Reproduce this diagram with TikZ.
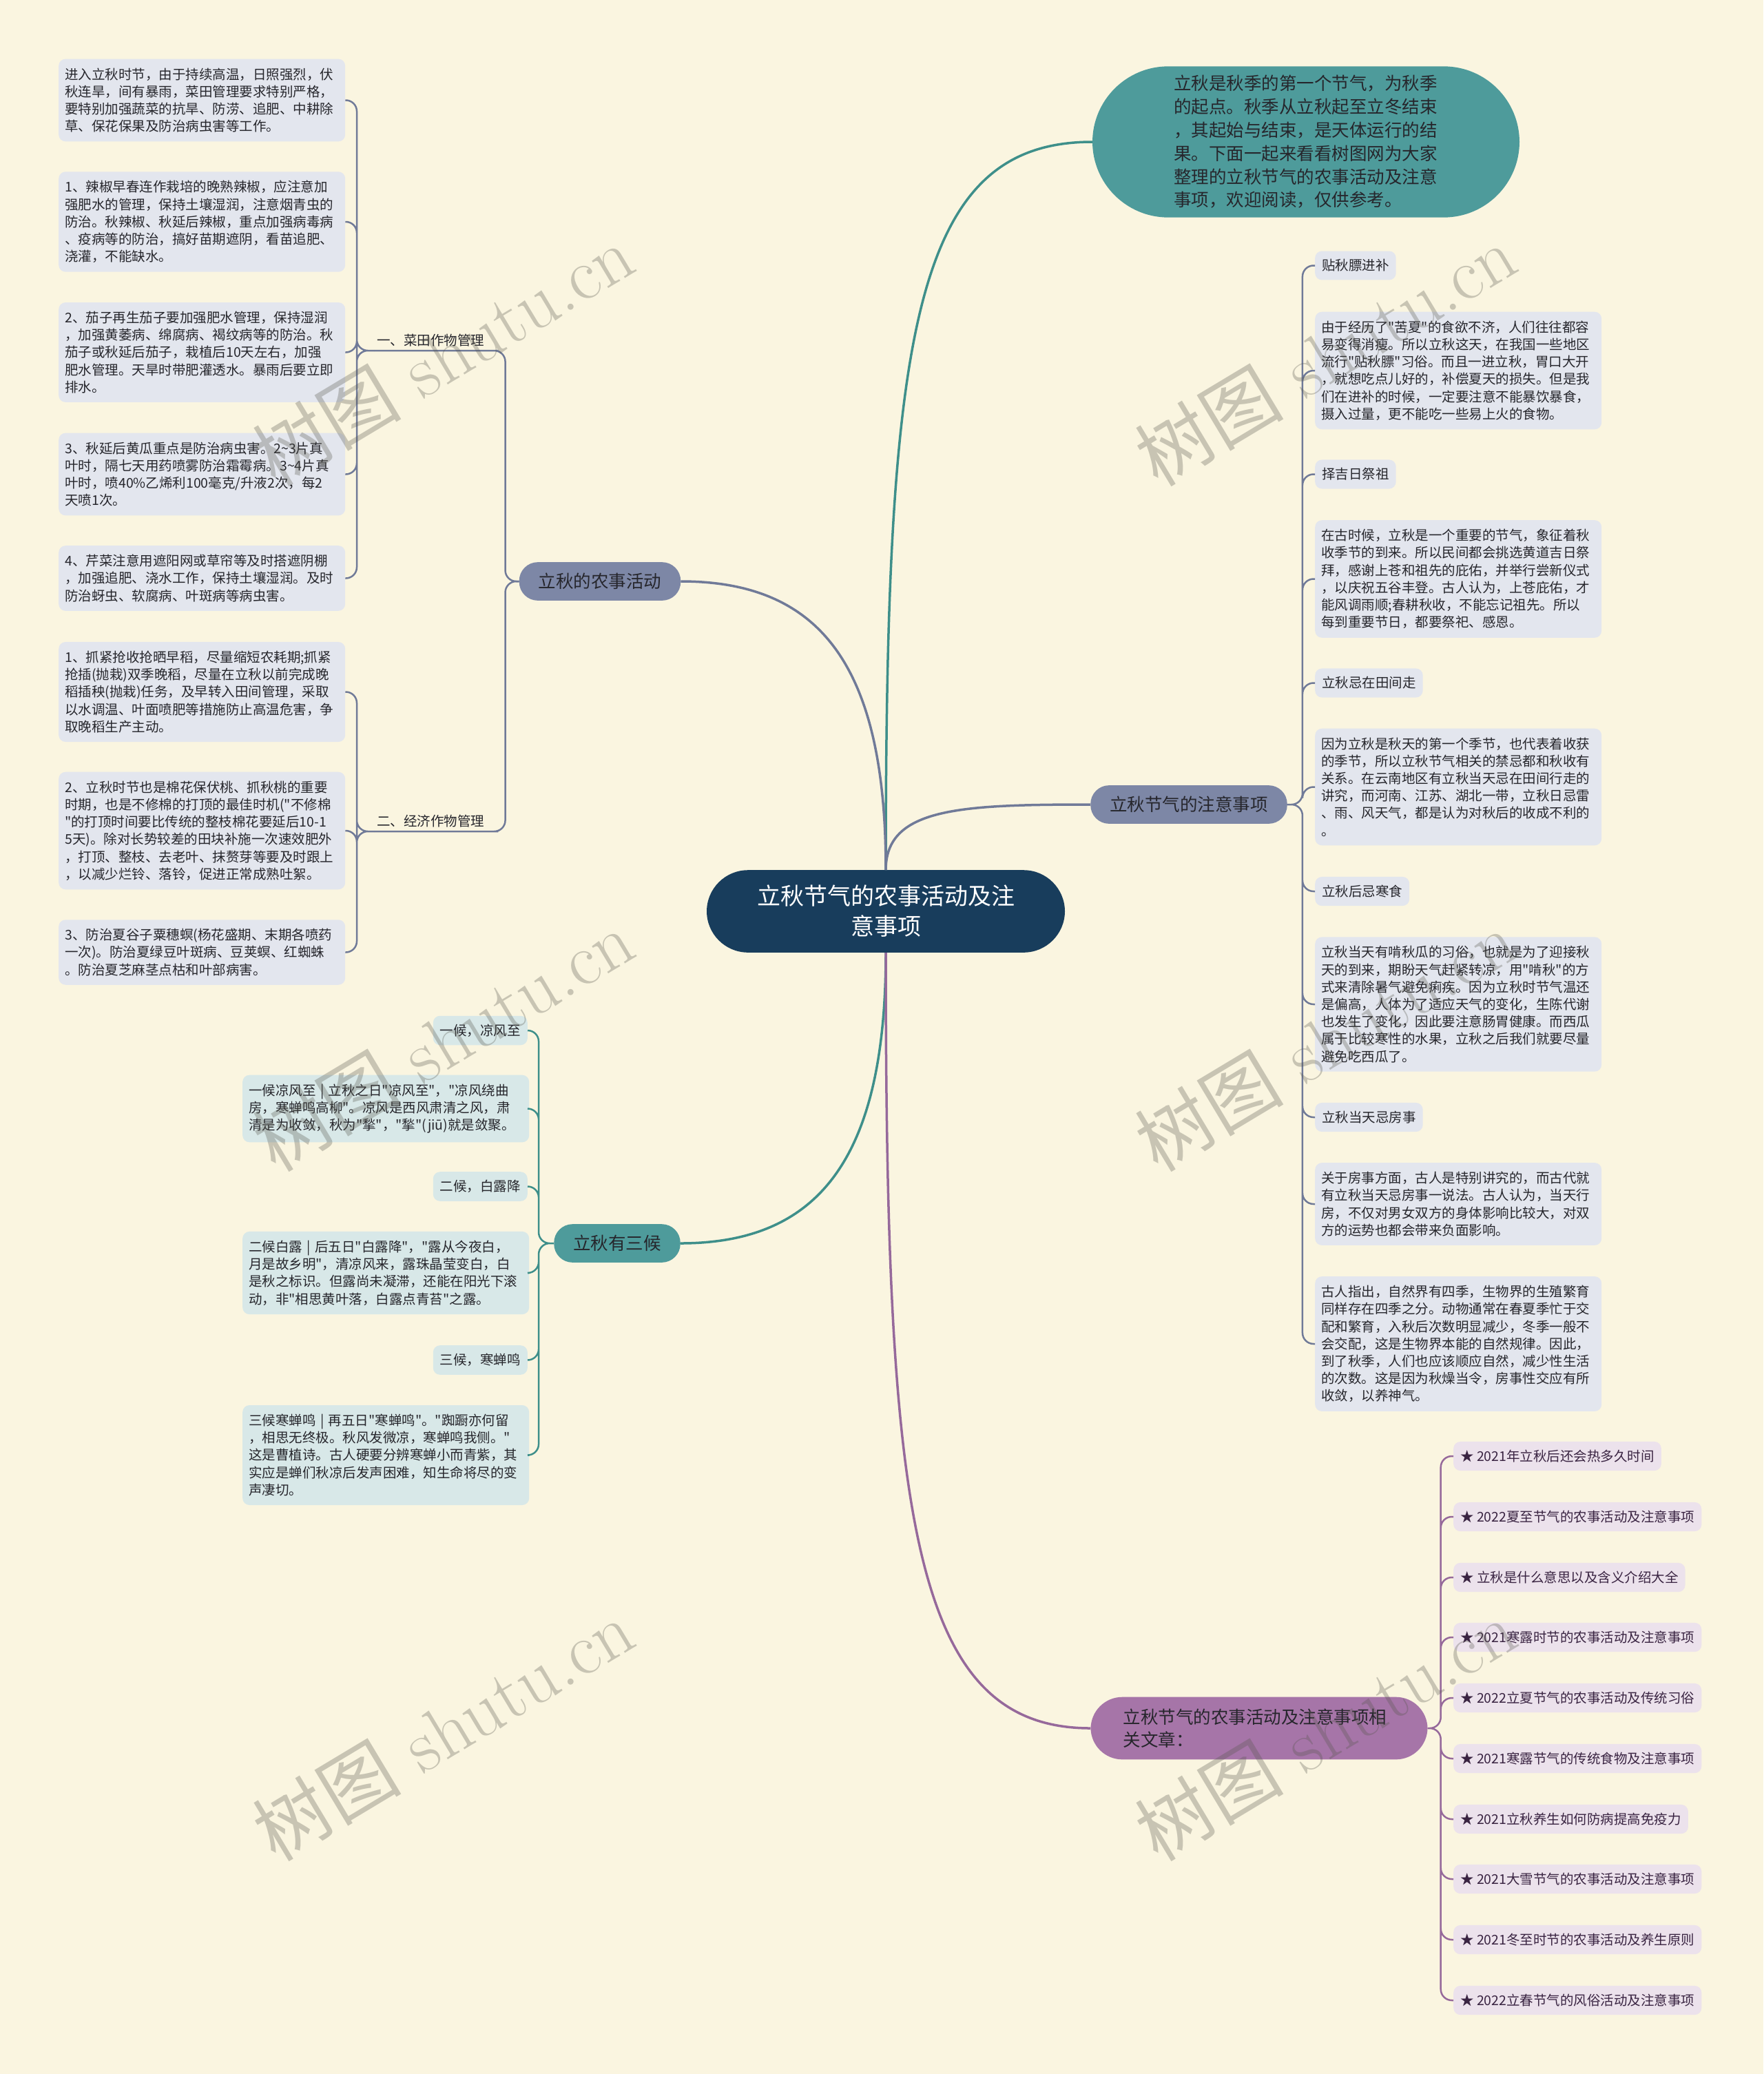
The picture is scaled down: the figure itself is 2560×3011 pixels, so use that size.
\documentclass[tikz,border=0pt]{standalone}
\usepackage{fontspec}
\newfontfamily\cjk{Noto Sans CJK SC}
\usetikzlibrary{positioning}

\definecolor{bgc}{RGB}{250,245,224}
\definecolor{navy}{RGB}{24,61,92}
\definecolor{tealmain}{RGB}{78,155,155}
\definecolor{slate}{RGB}{125,135,166}
\definecolor{plum}{RGB}{166,117,168}
\definecolor{leafgray}{RGB}{227,230,238}
\definecolor{leafteal}{RGB}{216,232,232}
\definecolor{leafplum}{RGB}{236,226,236}
\definecolor{ink}{RGB}{38,38,44}
\definecolor{inkplum}{RGB}{58,36,66}
\definecolor{lineslate}{RGB}{112,122,152}
\definecolor{lineteal}{RGB}{62,143,138}
\definecolor{lineplum}{RGB}{150,105,155}
\definecolor{wmgray}{RGB}{85,85,75}

\begin{document}
\begin{tikzpicture}[x=1pt, y=-1pt,
  topic/.style={rounded corners=27pt, inner xsep=28pt, inner ysep=16pt, fill=slate, text=ink, font=\cjk\fontsize{25.5}{33.8}\selectfont},
  leaf/.style={anchor=west, fill=leafgray, rounded corners=10pt, inner xsep=9pt, inner ysep=13pt, text width=398pt, align=left, text=ink, font=\cjk\fontsize{19.5}{25.2}\selectfont},
  tag/.style={fill=leafgray, rounded corners=10pt, inner xsep=10pt, inner ysep=12pt, text=ink, font=\cjk\fontsize{19.5}{25.2}\selectfont},
  sub/.style={anchor=south west, inner xsep=4pt, inner ysep=6pt, text=ink, font=\cjk\fontsize{19.5}{25.2}\selectfont},
  link/.style={line width=2.5pt, rounded corners=16pt},
  trunk/.style={line width=3.5pt},
  wm/.style={rotate=31, text=wmgray, opacity=0.3, font=\fontsize{108}{108}\selectfont}]
\fill[bgc] (0,0) rectangle (2560,3011);
\useasboundingbox (0,0) rectangle (2560,3011);

\node[topic, fill=navy, text=white, rounded corners=60pt, inner xsep=73pt, inner ysep=22pt, align=center, font=\cjk\fontsize{34}{44}\selectfont] (0) at (1286,1323) {立秋节气的农事活动及注\\意事项};

\node[topic, fill=tealmain, text=ink, rounded corners=110pt, inner xsep=118pt, inner ysep=13pt, text width=384pt, align=left] (2) at (1896,206) {立秋是秋季的第一个节气，为秋季\\的起点。秋季从立秋起至立冬结束\\，其起始与结束，是天体运行的结\\果。下面一起来看看树图网为大家\\整理的立秋节气的农事活动及注意\\事项，欢迎阅读，仅供参考。};

\node[topic] (1) at (871,844) {立秋的农事活动};
\node[topic] (3) at (1726,1168) {立秋节气的注意事项};
\node[topic, fill=tealmain] (4) at (896,1805) {立秋有三候};
\node[topic, fill=plum, rounded corners=46pt, inner xsep=47pt, inner ysep=17pt, text width=395pt, align=left, font=\cjk\fontsize{25.5}{33}\selectfont] (5) at (1828,2509) {立秋节气的农事活动及注意事项相\\关文章：};

\node[sub] (11) at (543,509) {一、菜田作物管理};
\node[sub] (12) at (543,1207) {二、经济作物管理};

\node[leaf] (111) at (85,145.5) {进入立秋时节，由于持续高温，日照强烈，伏\\秋连旱，间有暴雨，菜田管理要求特别严格，\\要特别加强蔬菜的抗旱、防涝、追肥、中耕除\\草、保花保果及防治病虫害等工作。};
\node[leaf] (112) at (85,322) {1、辣椒早春连作栽培的晚熟辣椒，应注意加\\强肥水的管理，保持土壤湿润，注意烟青虫的\\防治。秋辣椒、秋延后辣椒，重点加强病毒病\\、疫病等的防治，搞好苗期遮阴，看苗追肥、\\浇灌，不能缺水。};
\node[leaf] (113) at (85,511.5) {2、茄子再生茄子要加强肥水管理，保持湿润\\，加强黄萎病、绵腐病、褐纹病等的防治。秋\\茄子或秋延后茄子，栽植后10天左右，加强\\肥水管理。天旱时带肥灌透水。暴雨后要立即\\排水。};
\node[leaf] (114) at (85,688.5) {3、秋延后黄瓜重点是防治病虫害。2\textasciitilde 3片真\\叶时，隔七天用药喷雾防治霜霉病。3\textasciitilde 4片真\\叶时，喷40\%乙烯利100毫克/升液2次，每2\\天喷1次。};
\node[leaf] (115) at (85,839.5) {4、芹菜注意用遮阳网或草帘等及时搭遮阴棚\\，加强追肥、浇水工作，保持土壤湿润。及时\\防治蚜虫、软腐病、叶斑病等病虫害。};
\node[leaf] (121) at (85,1004.5) {1、抓紧抢收抢晒早稻，尽量缩短农耗期;抓紧\\抢插(抛栽)双季晚稻，尽量在立秋以前完成晚\\稻插秧(抛栽)任务，及早转入田间管理，采取\\以水调温、叶面喷肥等措施防止高温危害，争\\取晚稻生产主动。};
\node[leaf] (122) at (85,1206) {2、立秋时节也是棉花保伏桃、抓秋桃的重要\\时期，也是不修棉的打顶的最佳时机("不修棉\\"的打顶时间要比传统的整枝棉花要延后10-1\\5天)。除对长势较差的田块补施一次速效肥外\\，打顶、整枝、去老叶、抹赘芽等要及时跟上\\，以减少烂铃、落铃，促进正常成熟吐絮。};
\node[leaf] (123) at (85,1382.5) {3、防治夏谷子粟穗螟(杨花盛期、末期各喷药\\一次)。防治夏绿豆叶斑病、豆荚螟、红蜘蛛\\。防治夏芝麻茎点枯和叶部病害。};

\node[tag, fill=leafteal, anchor=east] (401) at (766,1496) {一候，凉风至};
\node[leaf, fill=leafteal] (402) at (352,1609.5) {一候凉风至 | 立秋之日"凉风至"，"凉风绕曲\\房，寒蝉鸣高柳"。凉风是西风肃清之风，肃\\清是为收敛，秋为"揫"，"揫"(jiū)就是敛聚。};
\node[tag, fill=leafteal, anchor=east] (403) at (766,1722.5) {二候，白露降};
\node[leaf, fill=leafteal] (404) at (352,1848) {二候白露 | 后五日"白露降"，"露从今夜白，\\月是故乡明"，清凉风来，露珠晶莹变白，白\\是秋之标识。但露尚未凝滞，还能在阳光下滚\\动，非"相思黄叶落，白露点青苔"之露。};
\node[tag, fill=leafteal, anchor=east] (405) at (766,1974.5) {三候，寒蝉鸣};
\node[leaf, fill=leafteal] (406) at (352,2112.5) {三候寒蝉鸣 | 再五日"寒蝉鸣"。"踟蹰亦何留\\，相思无终极。秋风发微凉，寒蝉鸣我侧。"\\这是曹植诗。古人硬要分辨寒蝉小而青紫，其\\实应是蝉们秋凉后发声困难，知生命将尽的变\\声凄切。};

\node[tag, anchor=west] (301) at (1909,385.5) {贴秋膘进补};
\node[leaf] (302) at (1909,538) {由于经历了"苦夏"的食欲不济，人们往往都容\\易变得消瘦。所以立秋这天，在我国一些地区\\流行"贴秋膘"习俗。而且一进立秋，胃口大开\\，就想吃点儿好的，补偿夏天的损失。但是我\\们在进补的时候，一定要注意不能暴饮暴食，\\摄入过量，更不能吃一些易上火的食物。};
\node[tag, anchor=west] (303) at (1909,688.5) {择吉日祭祖};
\node[leaf] (304) at (1909,840.5) {在古时候，立秋是一个重要的节气，象征着秋\\收季节的到来。所以民间都会挑选黄道吉日祭\\拜，感谢上苍和祖先的庇佑，并举行尝新仪式\\，以庆祝五谷丰登。古人认为，上苍庇佑，才\\能风调雨顺;春耕秋收，不能忘记祖先。所以\\每到重要节日，都要祭祀、感恩。};
\node[tag, anchor=west] (305) at (1909,991.5) {立秋忌在田间走};
\node[leaf] (306) at (1909,1142.5) {因为立秋是秋天的第一个季节，也代表着收获\\的季节，所以立秋节气相关的禁忌都和秋收有\\关系。在云南地区有立秋当天忌在田间行走的\\讲究，而河南、江苏、湖北一带，立秋日忌雷\\、雨、风天气，都是认为对秋后的收成不利的\\。};
\node[tag, anchor=west] (307) at (1909,1294) {立秋后忌寒食};
\node[leaf] (308) at (1909,1458) {立秋当天有啃秋瓜的习俗，也就是为了迎接秋\\天的到来，期盼天气赶紧转凉，用"啃秋"的方\\式来清除暑气避免痢疾。因为立秋时节气温还\\是偏高，人体为了适应天气的变化，生陈代谢\\也发生了变化，因此要注意肠胃健康。而西瓜\\属于比较寒性的水果，立秋之后我们就要尽量\\避免吃西瓜了。};
\node[tag, anchor=west] (309) at (1909,1622) {立秋当天忌房事};
\node[leaf] (310) at (1909,1748) {关于房事方面，古人是特别讲究的，而古代就\\有立秋当天忌房事一说法。古人认为，当天行\\房，不仅对男女双方的身体影响比较大，对双\\方的运势也都会带来负面影响。};
\node[leaf] (311) at (1909,1951) {古人指出，自然界有四季，生物界的生殖繁育\\同样存在四季之分。动物通常在春夏季忙于交\\配和繁育，入秋后次数明显减少，冬季一般不\\会交配，这是生物界本能的自然规律。因此，\\到了秋季，人们也应该顺应自然，减少性生活\\的次数。这是因为秋燥当令，房事性交应有所\\收敛，以养神气。};

\node[tag, fill=leafplum, text=inkplum, anchor=west] (501) at (2110,2114) {★ 2021年立秋后还会热多久时间};
\node[tag, fill=leafplum, text=inkplum, anchor=west] (502) at (2110,2202) {★ 2022夏至节气的农事活动及注意事项};
\node[tag, fill=leafplum, text=inkplum, anchor=west] (503) at (2110,2290) {★ 立秋是什么意思以及含义介绍大全};
\node[tag, fill=leafplum, text=inkplum, anchor=west] (504) at (2110,2377) {★ 2021寒露时节的农事活动及注意事项};
\node[tag, fill=leafplum, text=inkplum, anchor=west] (505) at (2110,2465) {★ 2022立夏节气的农事活动及传统习俗};
\node[tag, fill=leafplum, text=inkplum, anchor=west] (506) at (2110,2553) {★ 2021寒露节气的传统食物及注意事项};
\node[tag, fill=leafplum, text=inkplum, anchor=west] (507) at (2110,2641) {★ 2021立秋养生如何防病提高免疫力};
\node[tag, fill=leafplum, text=inkplum, anchor=west] (508) at (2110,2728) {★ 2021大雪节气的农事活动及注意事项};
\node[tag, fill=leafplum, text=inkplum, anchor=west] (509) at (2110,2816) {★ 2021冬至时节的农事活动及养生原则};
\node[tag, fill=leafplum, text=inkplum, anchor=west] (510) at (2110,2904) {★ 2022立春节气的风俗活动及注意事项};

\draw[trunk, lineteal] (0.north) .. controls +(0,-780) and +(-260,0) .. (2.west);
\draw[trunk, lineslate] (0.north) .. controls +(0,-300) and +(200,0) .. (1.east);
\draw[trunk, lineslate] (0.north) .. controls +(0,-90) and +(-190,0) .. (3.west);
\draw[trunk, lineteal] (0.south) .. controls +(0,300) and +(200,0) .. (4.east);
\draw[trunk, lineplum] (0.south) .. controls +(0,820) and +(-260,0) .. (5.west);

\draw[link, lineslate] (1.west) -- ++(-20,0) |- (11.south east) -- (11.south west);
\draw[link, lineslate] (1.west) -- ++(-20,0) |- (12.south east) -- (12.south west);
\draw[link, lineslate] (11.south west) -- ++(-25,0) |- (111.east)
  (11.south west) -- ++(-25,0) |- (112.east)
  (11.south west) -- ++(-25,0) |- (113.east)
  (11.south west) -- ++(-25,0) |- (114.east)
  (11.south west) -- ++(-25,0) |- (115.east);
\draw[link, lineslate] (12.south west) -- ++(-25,0) |- (121.east)
  (12.south west) -- ++(-25,0) |- (122.east)
  (12.south west) -- ++(-25,0) |- (123.east);

\draw[link, lineteal] (4.west) -- ++(-22,0) |- (401.east)
  (4.west) -- ++(-22,0) |- (402.east)
  (4.west) -- ++(-22,0) |- (403.east)
  (4.west) -- ++(-22,0) |- (404.east)
  (4.west) -- ++(-22,0) |- (405.east)
  (4.west) -- ++(-22,0) |- (406.east);

\draw[link, lineslate] (3.east) -- ++(22,0) |- (301.west)
  (3.east) -- ++(22,0) |- (302.west)
  (3.east) -- ++(22,0) |- (303.west)
  (3.east) -- ++(22,0) |- (304.west)
  (3.east) -- ++(22,0) |- (305.west)
  (3.east) -- ++(22,0) |- (306.west)
  (3.east) -- ++(22,0) |- (307.west)
  (3.east) -- ++(22,0) |- (308.west)
  (3.east) -- ++(22,0) |- (309.west)
  (3.east) -- ++(22,0) |- (310.west)
  (3.east) -- ++(22,0) |- (311.west);

\draw[link, lineplum] (5.east) -- ++(19,0) |- (501.west)
  (5.east) -- ++(19,0) |- (502.west)
  (5.east) -- ++(19,0) |- (503.west)
  (5.east) -- ++(19,0) |- (504.west)
  (5.east) -- ++(19,0) |- (505.west)
  (5.east) -- ++(19,0) |- (506.west)
  (5.east) -- ++(19,0) |- (507.west)
  (5.east) -- ++(19,0) |- (508.west)
  (5.east) -- ++(19,0) |- (509.west)
  (5.east) -- ++(19,0) |- (510.west);

\node[wm] (w1) at (643,515) {{\cjk 树图} shutu.cn};
\node[wm] (w2) at (643,1510) {{\cjk 树图} shutu.cn};
\node[wm] (w3) at (643,2511) {{\cjk 树图} shutu.cn};
\node[wm] (w4) at (1924,515) {{\cjk 树图} shutu.cn};
\node[wm] (w5) at (1924,1510) {{\cjk 树图} shutu.cn};
\node[wm] (w6) at (1924,2511) {{\cjk 树图} shutu.cn};
\end{tikzpicture}
\end{document}
